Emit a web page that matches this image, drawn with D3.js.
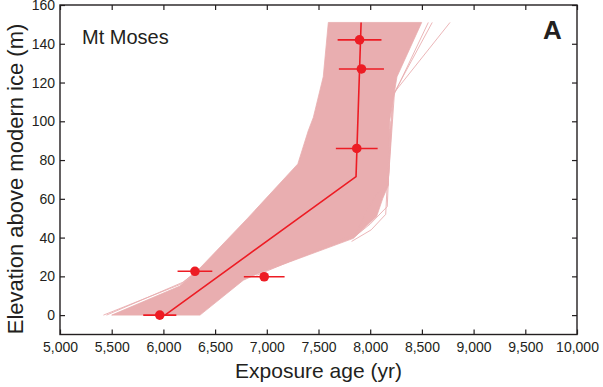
<!DOCTYPE html>
<html>
<head>
<meta charset="utf-8">
<script src="https://cdn.jsdelivr.net/npm/d3@7/dist/d3.min.js"></script>
<style>
  body { margin: 0; background: #fff; }
  text { font-family: "Liberation Sans", Arial, sans-serif; fill: #231f20; }
</style>
</head>
<body>
<svg id="chart" width="603" height="387"></svg>
<script>
// tick labels
const xTickValues = [5000, 5500, 6000, 6500, 7000, 7500, 8000, 8500, 9000, 9500, 10000];
const yTickValues = [0, 20, 40, 60, 80, 100, 120, 140, 160];

// measured samples (exposure age, elevation, 1 sigma)
const sampleAge = [5965, 6305, 6975, 7870, 7915, 7897];
const sampleElev = [0, 22.6, 19.8, 86, 127, 142];
const sampleErr = [160, 168, 197, 202, 218, 212];

// best fit thinning history
const fitAge = [6015, 7863, 7912];
const fitElev = [0, 71.5, 151];

// envelope of the monte carlo realisations (left edge bottom->top, right edge top->bottom)
const envLeftAge = [5500, 6160, 6354, 6815, 7300, 7400, 7450, 7546, 7595];
const envLeftElev = [0, 15, 24.3, 50, 78, 95, 102, 123, 151];
const envRightAge = [8498, 8259, 8191, 8175, 8120, 8063, 7837, 6918, 6773, 6354];
const envRightElev = [151, 123, 101, 67, 60, 51, 39.6, 21.5, 18, 0];

// single realisations that stand out of the envelope
const strayLines = [
  [[5420, 0], [6170, 16], [6354, 24]],
  [[5450, 0], [6190, 17], [6354, 24]],
  [[8172, 67], [8235, 115], [8772, 151]],
  [[8172, 67], [8225, 114], [8600, 151]],
  [[8175, 70], [8215, 112], [8562, 151]],
  [[7837, 40], [8000, 47], [8165, 56], [8200, 100]],
  [[7820, 38], [8010, 44], [8150, 52], [8190, 96]],
  [[6900, 20.5], [7860, 42], [8050, 62], [8160, 66]]
];

const width = 603, height = 387;
const svg = d3.select('#chart');

const x = d3.scaleLinear().domain([5000, 10000]).range([60, 577]);
const y = d3.scaleLinear().domain([-10, 160]).range([334.5, 5]);

const pink = '#e9aeb0';
const red = '#ed1c24';
const ink = '#231f20';

svg.append('defs').append('clipPath').attr('id', 'plot')
  .append('rect')
  .attr('x', x(5000)).attr('y', y(160))
  .attr('width', x(10000) - x(5000)).attr('height', y(-10) - y(160));

const plot = svg.append('g').attr('clip-path', 'url(#plot)');

// envelope polygon
const envelope = envLeftAge.map((a, i) => [a, envLeftElev[i]])
  .concat(envRightAge.map((a, i) => [a, envRightElev[i]]));

const line = d3.line().x(d => x(d[0])).y(d => y(d[1]));

plot.append('path')
  .attr('d', line(envelope) + 'Z')
  .attr('fill', pink)
  .attr('stroke', pink)
  .attr('stroke-width', 0.8)
  .attr('stroke-linejoin', 'round');

plot.append('g')
  .selectAll('path')
  .data(strayLines)
  .join('path')
  .attr('d', line)
  .attr('fill', 'none')
  .attr('stroke', pink)
  .attr('stroke-width', 0.9);

// best fit
plot.append('path')
  .attr('d', line(fitAge.map((a, i) => [a, fitElev[i]])))
  .attr('fill', 'none')
  .attr('stroke', red)
  .attr('stroke-width', 1.6);

// error bars + points
const samples = sampleAge.map((a, i) => ({age: a, elev: sampleElev[i], err: sampleErr[i]}));

plot.append('g')
  .selectAll('line')
  .data(samples)
  .join('line')
  .attr('x1', d => x(d.age - d.err))
  .attr('x2', d => x(d.age + d.err))
  .attr('y1', d => y(d.elev))
  .attr('y2', d => y(d.elev))
  .attr('stroke', red)
  .attr('stroke-width', 1.6);

plot.append('g')
  .selectAll('circle')
  .data(samples)
  .join('circle')
  .attr('cx', d => x(d.age))
  .attr('cy', d => y(d.elev))
  .attr('r', 4.8)
  .attr('fill', red);

// axes, ticks inward on all four sides
const styleAxis = g => {
  g.select('.domain').remove();
  g.selectAll('.tick line').attr('stroke', ink).attr('stroke-width', 1.2);
  g.selectAll('.tick text').attr('font-size', 14).attr('fill', ink)
    .style('font-family', '"Liberation Sans", Arial, sans-serif');
};

svg.append('g')
  .attr('transform', `translate(0,${y(-10)})`)
  .call(d3.axisBottom(x).tickValues(xTickValues).tickFormat(d3.format(','))
    .tickSizeInner(-5).tickSizeOuter(0).tickPadding(8))
  .call(styleAxis);

svg.append('g')
  .attr('transform', `translate(0,${y(160)})`)
  .call(d3.axisTop(x).tickValues(xTickValues).tickFormat('')
    .tickSizeInner(-5).tickSizeOuter(0))
  .call(styleAxis);

svg.append('g')
  .attr('transform', `translate(${x(5000)},0)`)
  .call(d3.axisLeft(y).tickValues(yTickValues)
    .tickSizeInner(-5).tickSizeOuter(0).tickPadding(5))
  .call(styleAxis);

svg.append('g')
  .attr('transform', `translate(${x(10000)},0)`)
  .call(d3.axisRight(y).tickValues(yTickValues).tickFormat('')
    .tickSizeInner(-5).tickSizeOuter(0))
  .call(styleAxis);

svg.append('rect')
  .attr('x', x(5000)).attr('y', y(160))
  .attr('width', x(10000) - x(5000)).attr('height', y(-10) - y(160))
  .attr('fill', 'none')
  .attr('stroke', ink)
  .attr('stroke-width', 1.4);

// titles
svg.append('text')
  .attr('x', (x(5000) + x(10000)) / 2)
  .attr('y', 378)
  .attr('text-anchor', 'middle')
  .attr('font-size', 21)
  .text('Exposure age (yr)');

svg.append('text')
  .attr('transform', 'translate(23,179) rotate(-90)')
  .attr('text-anchor', 'middle')
  .attr('font-size', 22)
  .text('Elevation above modern ice (m)');

svg.append('text')
  .attr('x', 82)
  .attr('y', 44)
  .attr('font-size', 20)
  .text('Mt Moses');

svg.append('text')
  .attr('x', 543)
  .attr('y', 39)
  .attr('font-size', 26)
  .attr('font-weight', 'bold')
  .text('A');
</script>
</body>
</html>
